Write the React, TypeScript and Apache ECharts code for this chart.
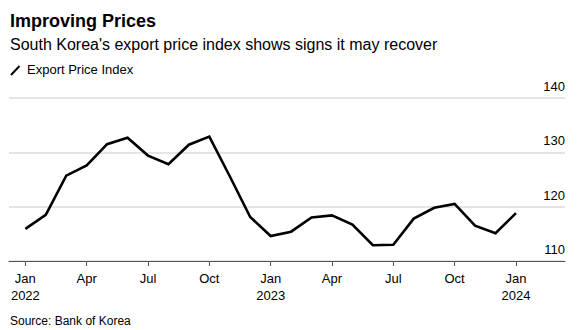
import React, { useEffect, useRef } from "react";
import * as echarts from "echarts";

const months: string[] = [
  "2022-01", "2022-02", "2022-03", "2022-04", "2022-05", "2022-06", "2022-07", "2022-08", "2022-09", "2022-10", "2022-11", "2022-12",
  "2023-01", "2023-02", "2023-03", "2023-04", "2023-05", "2023-06", "2023-07", "2023-08", "2023-09", "2023-10", "2023-11", "2023-12",
  "2024-01",
];
const exportPriceIndex: number[] = [
  115.9, 118.5, 125.7, 127.6, 131.5, 132.7, 129.4, 127.8, 131.4, 132.9, 125.6, 118.1,
  114.6, 115.4, 118.0, 118.4, 116.7, 112.9, 113.0, 117.8, 119.8, 120.5, 116.5, 115.1,
  118.8,
];
const tickIndexes: number[] = [0, 3, 6, 9, 12, 15, 18, 21, 24];
const tickLabels: string[] = ["Jan\n2022", "Apr", "Jul", "Oct", "Jan\n2023", "Apr", "Jul", "Oct", "Jan\n2024"];
const yTicks: number[] = [110, 120, 130, 140];

const FONT = "'Liberation Sans', Arial, Helvetica, sans-serif";

export default function App() {
  const ref = useRef<HTMLDivElement>(null);
  useEffect(() => {
    document.body.style.margin = "0";
    if (!ref.current) return;
    const chart = echarts.init(ref.current, undefined, { renderer: "svg" });
    chart.setOption({
      animation: false,
      backgroundColor: "#fff",
      textStyle: { fontFamily: FONT },
      grid: { left: 9, right: 22, top: 98, bottom: 69, containLabel: false },
      xAxis: {
        type: "value",
        min: -0.8,
        max: 26.4,
        splitLine: { show: false },
        axisLine: { show: true, lineStyle: { color: "#555", width: 1 } },
        axisTick: { show: true, customValues: tickIndexes, length: 5, lineStyle: { color: "#555" } },
        axisLabel: {
          customValues: tickIndexes,
          formatter: (v: number) => tickLabels[tickIndexes.indexOf(Math.round(v))] ?? "",
          color: "#000",
          fontSize: 13,
          lineHeight: 17,
          margin: 9,
          fontFamily: FONT,
        },
      },
      yAxis: {
        type: "value",
        position: "right",
        min: 110,
        max: 140,
        interval: 10,
        axisLine: { show: false },
        axisTick: { show: false },
        splitLine: { show: true, lineStyle: { color: "#dcdcdc", width: 1.5 } },
        axisLabel: {
          inside: true,
          margin: 0,
          color: "#000",
          fontSize: 13,
          verticalAlign: "bottom",
          padding: [0, 0, 5, 0],
          fontFamily: FONT,
          formatter: (v: number) => (yTicks.includes(v) ? String(v) : ""),
        },
      },
      series: [
        {
          type: "line",
          name: "Export Price Index",
          data: exportPriceIndex.map((v, i) => [i, v]),
          showSymbol: false,
          lineStyle: { color: "#000", width: 2.6, join: "miter" },
          z: 5,
        },
      ],
      graphic: [
        {
          type: "text",
          left: 10,
          top: 12,
          style: { text: "Improving Prices", font: `bold 18px ${FONT}`, fill: "#000" },
        },
        {
          type: "text",
          left: 10,
          top: 36,
          style: { text: "South Korea's export price index shows signs it may recover", font: `16px ${FONT}`, fill: "#000" },
        },
        {
          type: "line",
          shape: { x1: 11, y1: 75, x2: 19.5, y2: 66 },
          style: { stroke: "#000", lineWidth: 2 },
        },
        {
          type: "text",
          left: 27,
          top: 63,
          style: { text: "Export Price Index", font: `13px ${FONT}`, fill: "#000" },
        },
        {
          type: "text",
          left: 10,
          top: 315,
          style: { text: "Source: Bank of Korea", font: `12px ${FONT}`, fill: "#000" },
        },
      ],
    });
    return () => chart.dispose();
  }, []);
  return <div ref={ref} style={{ width: 587, height: 330 }} />;
}
